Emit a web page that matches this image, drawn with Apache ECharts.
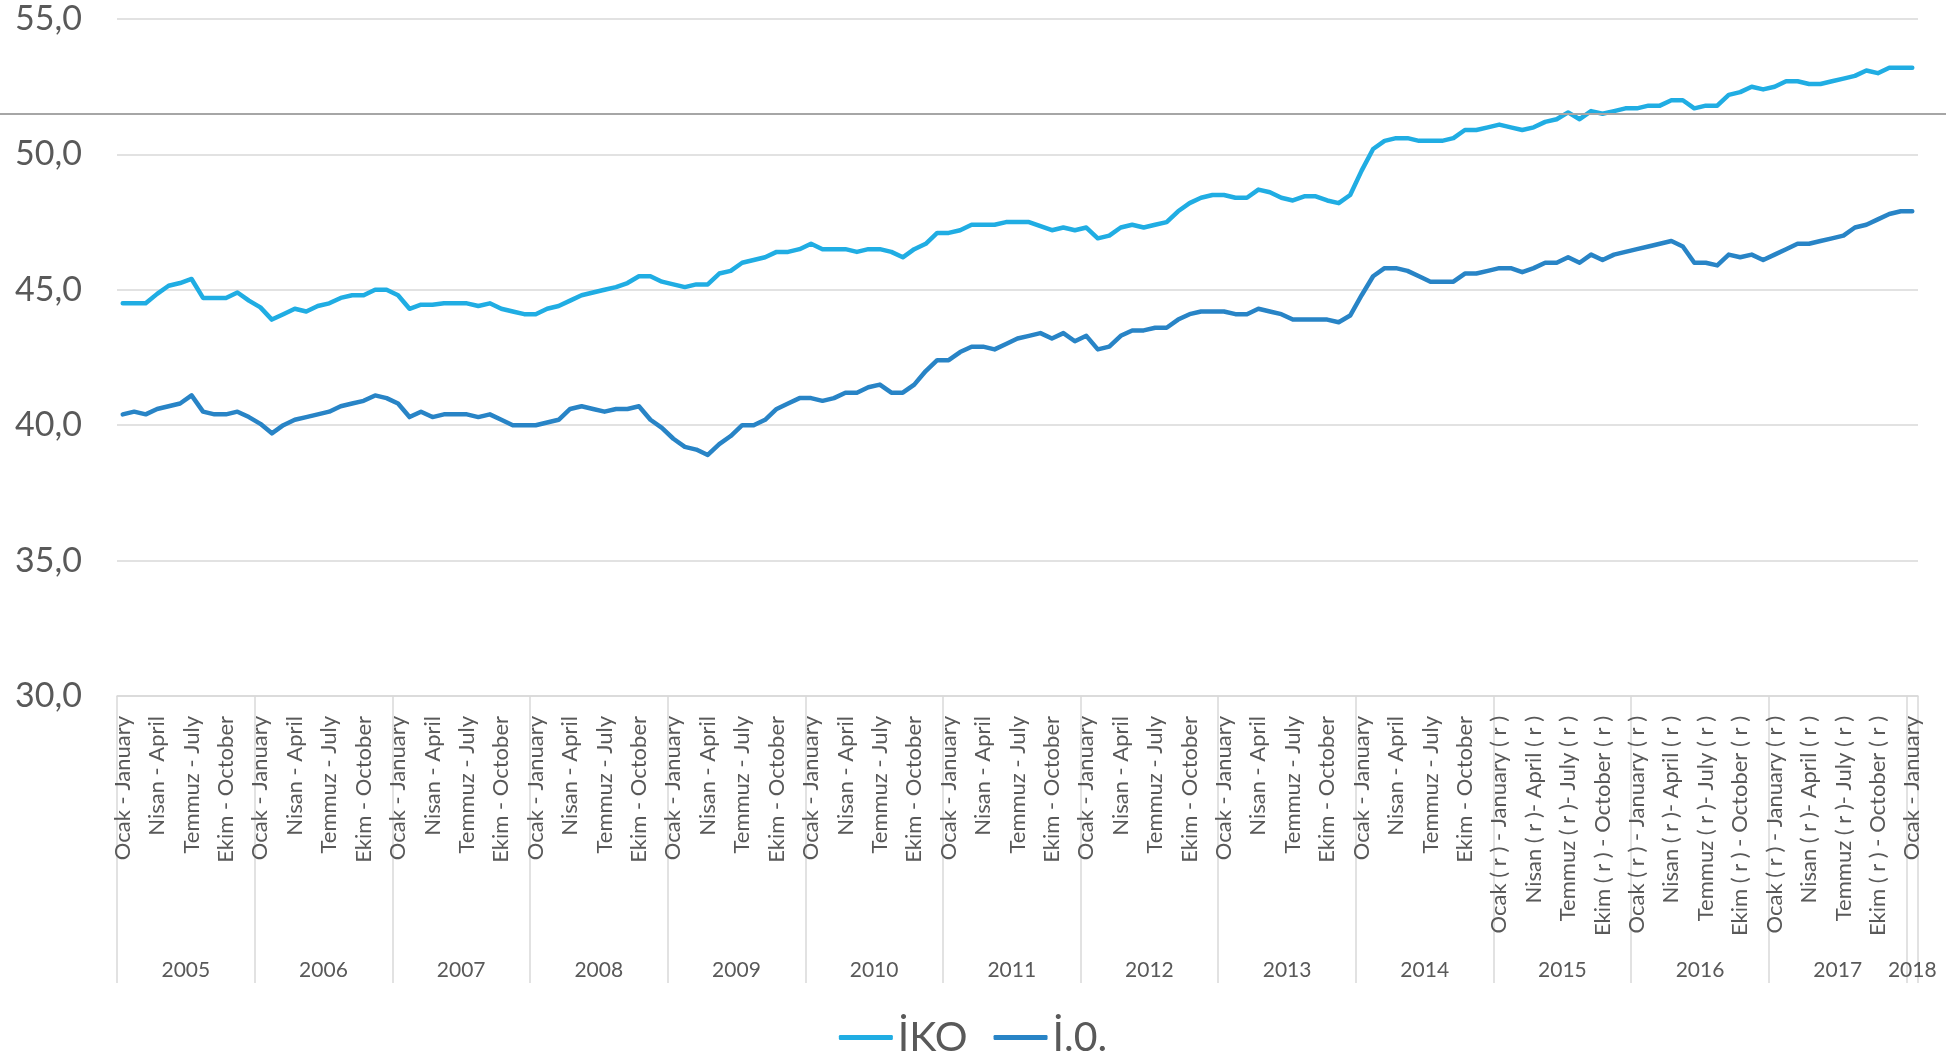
<!DOCTYPE html>
<html>
<head>
<meta charset="utf-8">
<script src="https://cdn.jsdelivr.net/npm/echarts@6.0.0/dist/echarts.min.js"></script>
<style>
  html, body { margin: 0; padding: 0; background: #fff; }
  #chart { width: 1946px; height: 1052px; }
</style>
</head>
<body>
<div id="chart"></div>
<script>
// aylar / months
const trMonths = ["Ocak", "Şubat", "Mart", "Nisan", "Mayıs", "Haziran", "Temmuz", "Ağustos", "Eylül", "Ekim", "Kasım", "Aralık"];
const enMonths = ["January", "February", "March", "April", "May", "June", "July", "August", "September", "October", "November", "December"];
const years = ["2005", "2006", "2007", "2008", "2009", "2010", "2011", "2012", "2013", "2014", "2015", "2016", "2017", "2018"];
const revisedYears = ["2015", "2016", "2017"];
const monthsInYear = [12, 12, 12, 12, 12, 12, 12, 12, 12, 12, 12, 12, 12, 1];
const yTicks = [30, 35, 40, 45, 50, 55];

// İKO
const ikoValues = [
  44.5, 44.5, 44.5, 44.85, 45.15, 45.25, 45.4, 44.7, 44.7, 44.7, 44.9, 44.6,
  44.35, 43.9, 44.1, 44.3, 44.2, 44.4, 44.5, 44.7, 44.8, 44.8, 45.0, 45.0,
  44.8, 44.3, 44.45, 44.45, 44.5, 44.5, 44.5, 44.4, 44.5, 44.3, 44.2, 44.1,
  44.1, 44.3, 44.4, 44.6, 44.8, 44.9, 45.0, 45.1, 45.25, 45.5, 45.5, 45.3,
  45.2, 45.1, 45.2, 45.2, 45.6, 45.7, 46.0, 46.1, 46.2, 46.4, 46.4, 46.5,
  46.7, 46.5, 46.5, 46.5, 46.4, 46.5, 46.5, 46.4, 46.2, 46.5, 46.7, 47.1,
  47.1, 47.2, 47.4, 47.4, 47.4, 47.5, 47.5, 47.5, 47.35, 47.2, 47.3, 47.2,
  47.3, 46.9, 47.0, 47.3, 47.4, 47.3, 47.4, 47.5, 47.9, 48.2, 48.4, 48.5,
  48.5, 48.4, 48.4, 48.7, 48.6, 48.4, 48.3, 48.45, 48.45, 48.3, 48.2, 48.5,
  49.4, 50.2, 50.5, 50.6, 50.6, 50.5, 50.5, 50.5, 50.6, 50.9, 50.9, 51.0,
  51.1, 51.0, 50.9, 51.0, 51.2, 51.3, 51.55, 51.3, 51.6, 51.5, 51.6, 51.7,
  51.7, 51.8, 51.8, 52.0, 52.0, 51.7, 51.8, 51.8, 52.2, 52.3, 52.5, 52.4,
  52.5, 52.7, 52.7, 52.6, 52.6, 52.7, 52.8, 52.9, 53.1, 53.0, 53.2, 53.2,
  53.2
];

// İ.O.
const ioValues = [
  40.4, 40.5, 40.4, 40.6, 40.7, 40.8, 41.1, 40.5, 40.4, 40.4, 40.5, 40.3,
  40.05, 39.7, 40.0, 40.2, 40.3, 40.4, 40.5, 40.7, 40.8, 40.9, 41.1, 41.0,
  40.8, 40.3, 40.5, 40.3, 40.4, 40.4, 40.4, 40.3, 40.4, 40.2, 40.0, 40.0,
  40.0, 40.1, 40.2, 40.6, 40.7, 40.6, 40.5, 40.6, 40.6, 40.7, 40.2, 39.9,
  39.5, 39.2, 39.1, 38.9, 39.3, 39.6, 40.0, 40.0, 40.2, 40.6, 40.8, 41.0,
  41.0, 40.9, 41.0, 41.2, 41.2, 41.4, 41.5, 41.2, 41.2, 41.5, 42.0, 42.4,
  42.4, 42.7, 42.9, 42.9, 42.8, 43.0, 43.2, 43.3, 43.4, 43.2, 43.4, 43.1,
  43.3, 42.8, 42.9, 43.3, 43.5, 43.5, 43.6, 43.6, 43.9, 44.1, 44.2, 44.2,
  44.2, 44.1, 44.1, 44.3, 44.2, 44.1, 43.9, 43.9, 43.9, 43.9, 43.8, 44.05,
  44.8, 45.5, 45.8, 45.8, 45.7, 45.5, 45.3, 45.3, 45.3, 45.6, 45.6, 45.7,
  45.8, 45.8, 45.65, 45.8, 46.0, 46.0, 46.2, 46.0, 46.3, 46.1, 46.3, 46.4,
  46.5, 46.6, 46.7, 46.8, 46.6, 46.0, 46.0, 45.9, 46.3, 46.2, 46.3, 46.1,
  46.3, 46.5, 46.7, 46.7, 46.8, 46.9, 47.0, 47.3, 47.4, 47.6, 47.8, 47.9,
  47.9
];

const textColor = "#595959";
const gridColor = "#d9d9d9";
const font = "Lato";

// kategori etiketleri (ay - month)
const categories = [];
years.forEach((y, yi) => {
  for (let m = 0; m < monthsInYear[yi]; m++) {
    if (revisedYears.includes(y)) {
      const sep = (m === 3 || m === 6) ? "- " : " - ";
      categories.push(trMonths[m] + " ( r )" + sep + enMonths[m] + " ( r )");
    } else {
      categories.push(trMonths[m] + " - " + enMonths[m]);
    }
  }
});

// yıl sınırları ve ortaları
const yearEdges = [0];
const yearCenters = [];
monthsInYear.forEach((n) => {
  const start = yearEdges[yearEdges.length - 1];
  yearCenters.push(start + n / 2);
  yearEdges.push(start + n);
});

const chart = echarts.init(document.getElementById("chart"));

const option = {
  animation: false,
  textStyle: { fontFamily: font, color: textColor },
  grid: { left: 117, right: 28, top: 19, bottom: 356 },
  legend: {
    top: 1012,
    left: "center",
    icon: "roundRect",
    itemWidth: 54,
    itemHeight: 5,
    itemGap: 26,
    textStyle: { fontSize: 41, color: textColor, fontFamily: font },
    data: ["İKO", "İ.0."]
  },
  xAxis: [
    {
      type: "category",
      data: categories,
      boundaryGap: true,
      axisLine: { lineStyle: { color: gridColor, width: 1.5 } },
      axisTick: { show: false },
      axisLabel: {
        interval: 2,
        rotate: 90,
        margin: 20,
        fontSize: 22,
        color: textColor,
        fontFamily: font
      }
    },
    {
      type: "value",
      position: "bottom",
      min: 0,
      max: yearEdges[yearEdges.length - 1],
      axisLine: { show: false },
      splitLine: { show: false },
      axisTick: {
        show: true,
        customValues: yearEdges,
        length: 287,
        lineStyle: { color: gridColor, width: 1.5 }
      },
      axisLabel: {
        customValues: yearCenters,
        margin: 264,
        fontSize: 21,
        color: textColor,
        fontFamily: font,
        formatter: (v) => years[yearCenters.indexOf(v)]
      }
    }
  ],
  yAxis: {
    type: "value",
    min: yTicks[0],
    max: yTicks[yTicks.length - 1],
    interval: 5,
    axisLine: { show: false },
    axisTick: { show: false },
    splitLine: { lineStyle: { color: gridColor, width: 1.5 } },
    axisLabel: {
      fontSize: 34,
      margin: 35,
      color: textColor,
      fontFamily: font,
      formatter: (v) => v.toFixed(1).replace(".", ",")
    }
  },
  graphic: [
    {
      type: "line",
      shape: { x1: 0, y1: 114, x2: 1946, y2: 114 },
      style: { stroke: "#a6a6a6", lineWidth: 2 },
      silent: true,
      z: 100
    }
  ],
  series: [
    {
      name: "İKO",
      type: "line",
      data: ikoValues,
      symbol: "none",
      lineStyle: { color: "#20ade3", width: 4.5, cap: "round", join: "round" },
      itemStyle: { color: "#20ade3" }
    },
    {
      name: "İ.0.",
      type: "line",
      data: ioValues,
      symbol: "none",
      lineStyle: { color: "#2884c6", width: 4.5, cap: "round", join: "round" },
      itemStyle: { color: "#2884c6" }
    }
  ]
};

chart.setOption(option);
</script>
</body>
</html>
